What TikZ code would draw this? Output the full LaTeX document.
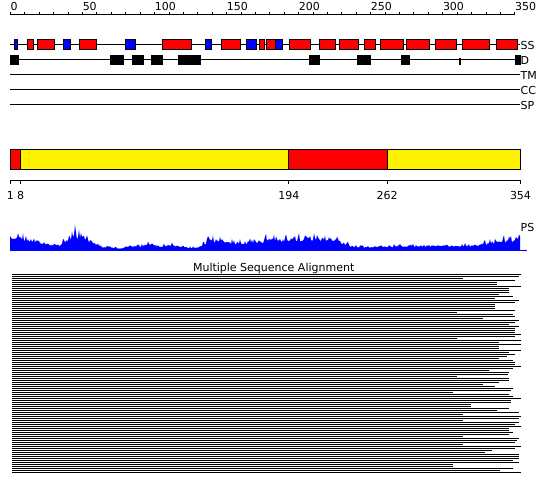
\documentclass[tikz,border=0pt]{standalone}
\usepackage{fontspec}
\setmainfont{DejaVu Sans}
\begin{document}
\begin{tikzpicture}[x=1pt,y=-1pt,
  lab/.style={font=\fontsize{11}{13}\selectfont, inner sep=0pt},
  track/.style={line width=1pt,black},
  ssbox/.style={draw=black,line width=1pt},
  barbox/.style={draw=black,line width=1pt},
  aln/.style={line width=1.25pt,black}]
\useasboundingbox (0,0) rectangle (550,495);
% ruler
\draw[track] (10.5,15) -- (514.9,15);
\foreach \p in {0,10,...,350} \draw[line width=1pt] ({10.5+\p*1.441},15.5) -- ++(0,-3.5);
\foreach \p in {0,50,...,350} \node[lab,anchor=base west] (r\p) at ({10.5+\p*1.441},10.5) {\p};
% tracks
\foreach \y/\t in {45/SS,60/D,75/TM,90/CC,105/SP} {
  \draw[track] (10,\y) -- (520,\y);
  \node[lab,anchor=west] (t\t) at (520.5,\y) {\t};
}
% secondary structure
\foreach \a/\b/\c in {14.3/17.7/blue, 27.3/33.3/red, 37.3/54.7/red, 63.3/70.7/blue, 79.3/96.7/red, 125.3/135.7/blue, 162.3/191.7/red, 205.3/211.7/blue, 221.3/240.7/red, 246.3/256.7/blue, 259.3/264/red, 266.7/275.3/red, 275.3/282.7/blue, 289.3/310/red, 319.3/335.7/red, 339.7/358.3/red, 364.3/375.7/red, 380.3/403.3/red, 406.3/429.3/red, 435.3/456.3/red, 462.3/489.7/red, 496/517/red}
  \filldraw[ssbox,fill=\c] (\a,40) rectangle (\b,50);
% disorder
\foreach \a/\b in {10/19,110/124,132/144,151/163,178.3/201,309/320,357/370.7,401/410,515/520.7}
  \fill[black] (\a,55.5) rectangle (\b,65);
\fill[black] (459.3,58) rectangle (460.7,65);
% domain bar
\filldraw[barbox,fill=red] (10,150) rectangle (20.1,170);
\filldraw[barbox,fill=yellow] (20.1,150) rectangle (288.8,170);
\filldraw[barbox,fill=red] (288.8,150) rectangle (387.1,170);
\filldraw[barbox,fill=yellow] (387.1,150) rectangle (520.5,170);
\draw[track] (10,180.5) -- (520.5,180.5);
\foreach \x/\t in {10.3/1,20.5/8,288.8/194,387.1/262,520.5/354} {
  \draw[line width=1pt] (\x,180) -- ++(0,4.5);
  \node[lab,anchor=base] (b\t) at (\x,200) {\t};
}
% PS profile
\def\envlist{14,14,13,9,6,6,14,18,11,4,3,1.5,5,4,7,4,6,4,2.5,3,12,11,9,8,11,10,13,12,11,13,13,12,13,10,5,3,3.5,4,4,4.5,4.5,4.5,5,5,5,5,5,6,8,10,11,13}
\pgfmathsetseed{11}
\xdef\pspath{}
\foreach \x in {10,...,519} {
  \pgfmathtruncatemacro\ii{(\x-10)/10}
  \pgfmathsetmacro\ff{(\x-10-10*\ii)/10}
  \pgfmathsetmacro\ea{{\envlist}[\ii]}
  \pgfmathtruncatemacro\jj{\ii+1}
  \pgfmathsetmacro\eb{{\envlist}[\jj]}
  \pgfmathsetmacro\rr{rnd}
  \pgfmathsetmacro\yy{250-(\ea*(1-\ff)+\eb*\ff)*(0.62+0.35*rnd+0.7*\rr^5)}
  \xdef\pspath{\pspath -- (\x,\yy)}
}
\edef\psdraw{\noexpand\fill[blue] (10,250) \pspath -- (520,236) -- (520,250) -- cycle;}
\psdraw
\draw[blue,line width=1pt] (10,250) -- (527,250);
\node[lab,anchor=west] (ps) at (520.5,227) {PS};
\node[lab] (msa) at (273.7,268.5) {Multiple Sequence Alignment};
% alignment
\foreach \v [count=\i from 0] in {242,236,68,224,170,170,242,208,208,206,176,218,166,236,224,166,166,166,224,50,218,224,130,236,224,208,236,224,224,224,242,224,50,242,176,242,176,176,242,208,224,200,176,218,224,224,242,218,146,206,204,50,206,206,176,130,166,218,212,40,206,218,242,212,212,94,94,206,170,236,70,242,236,68,236,224,242,206,206,218,206,68,236,230,224,68,242,224,155,136,236,236,236,218,236,40,40,218,180,242}
  \draw[aln] (12,{274.7+2*\i}) -- ({440+\v/3},{274.7+2*\i});
\end{tikzpicture}
\end{document}
